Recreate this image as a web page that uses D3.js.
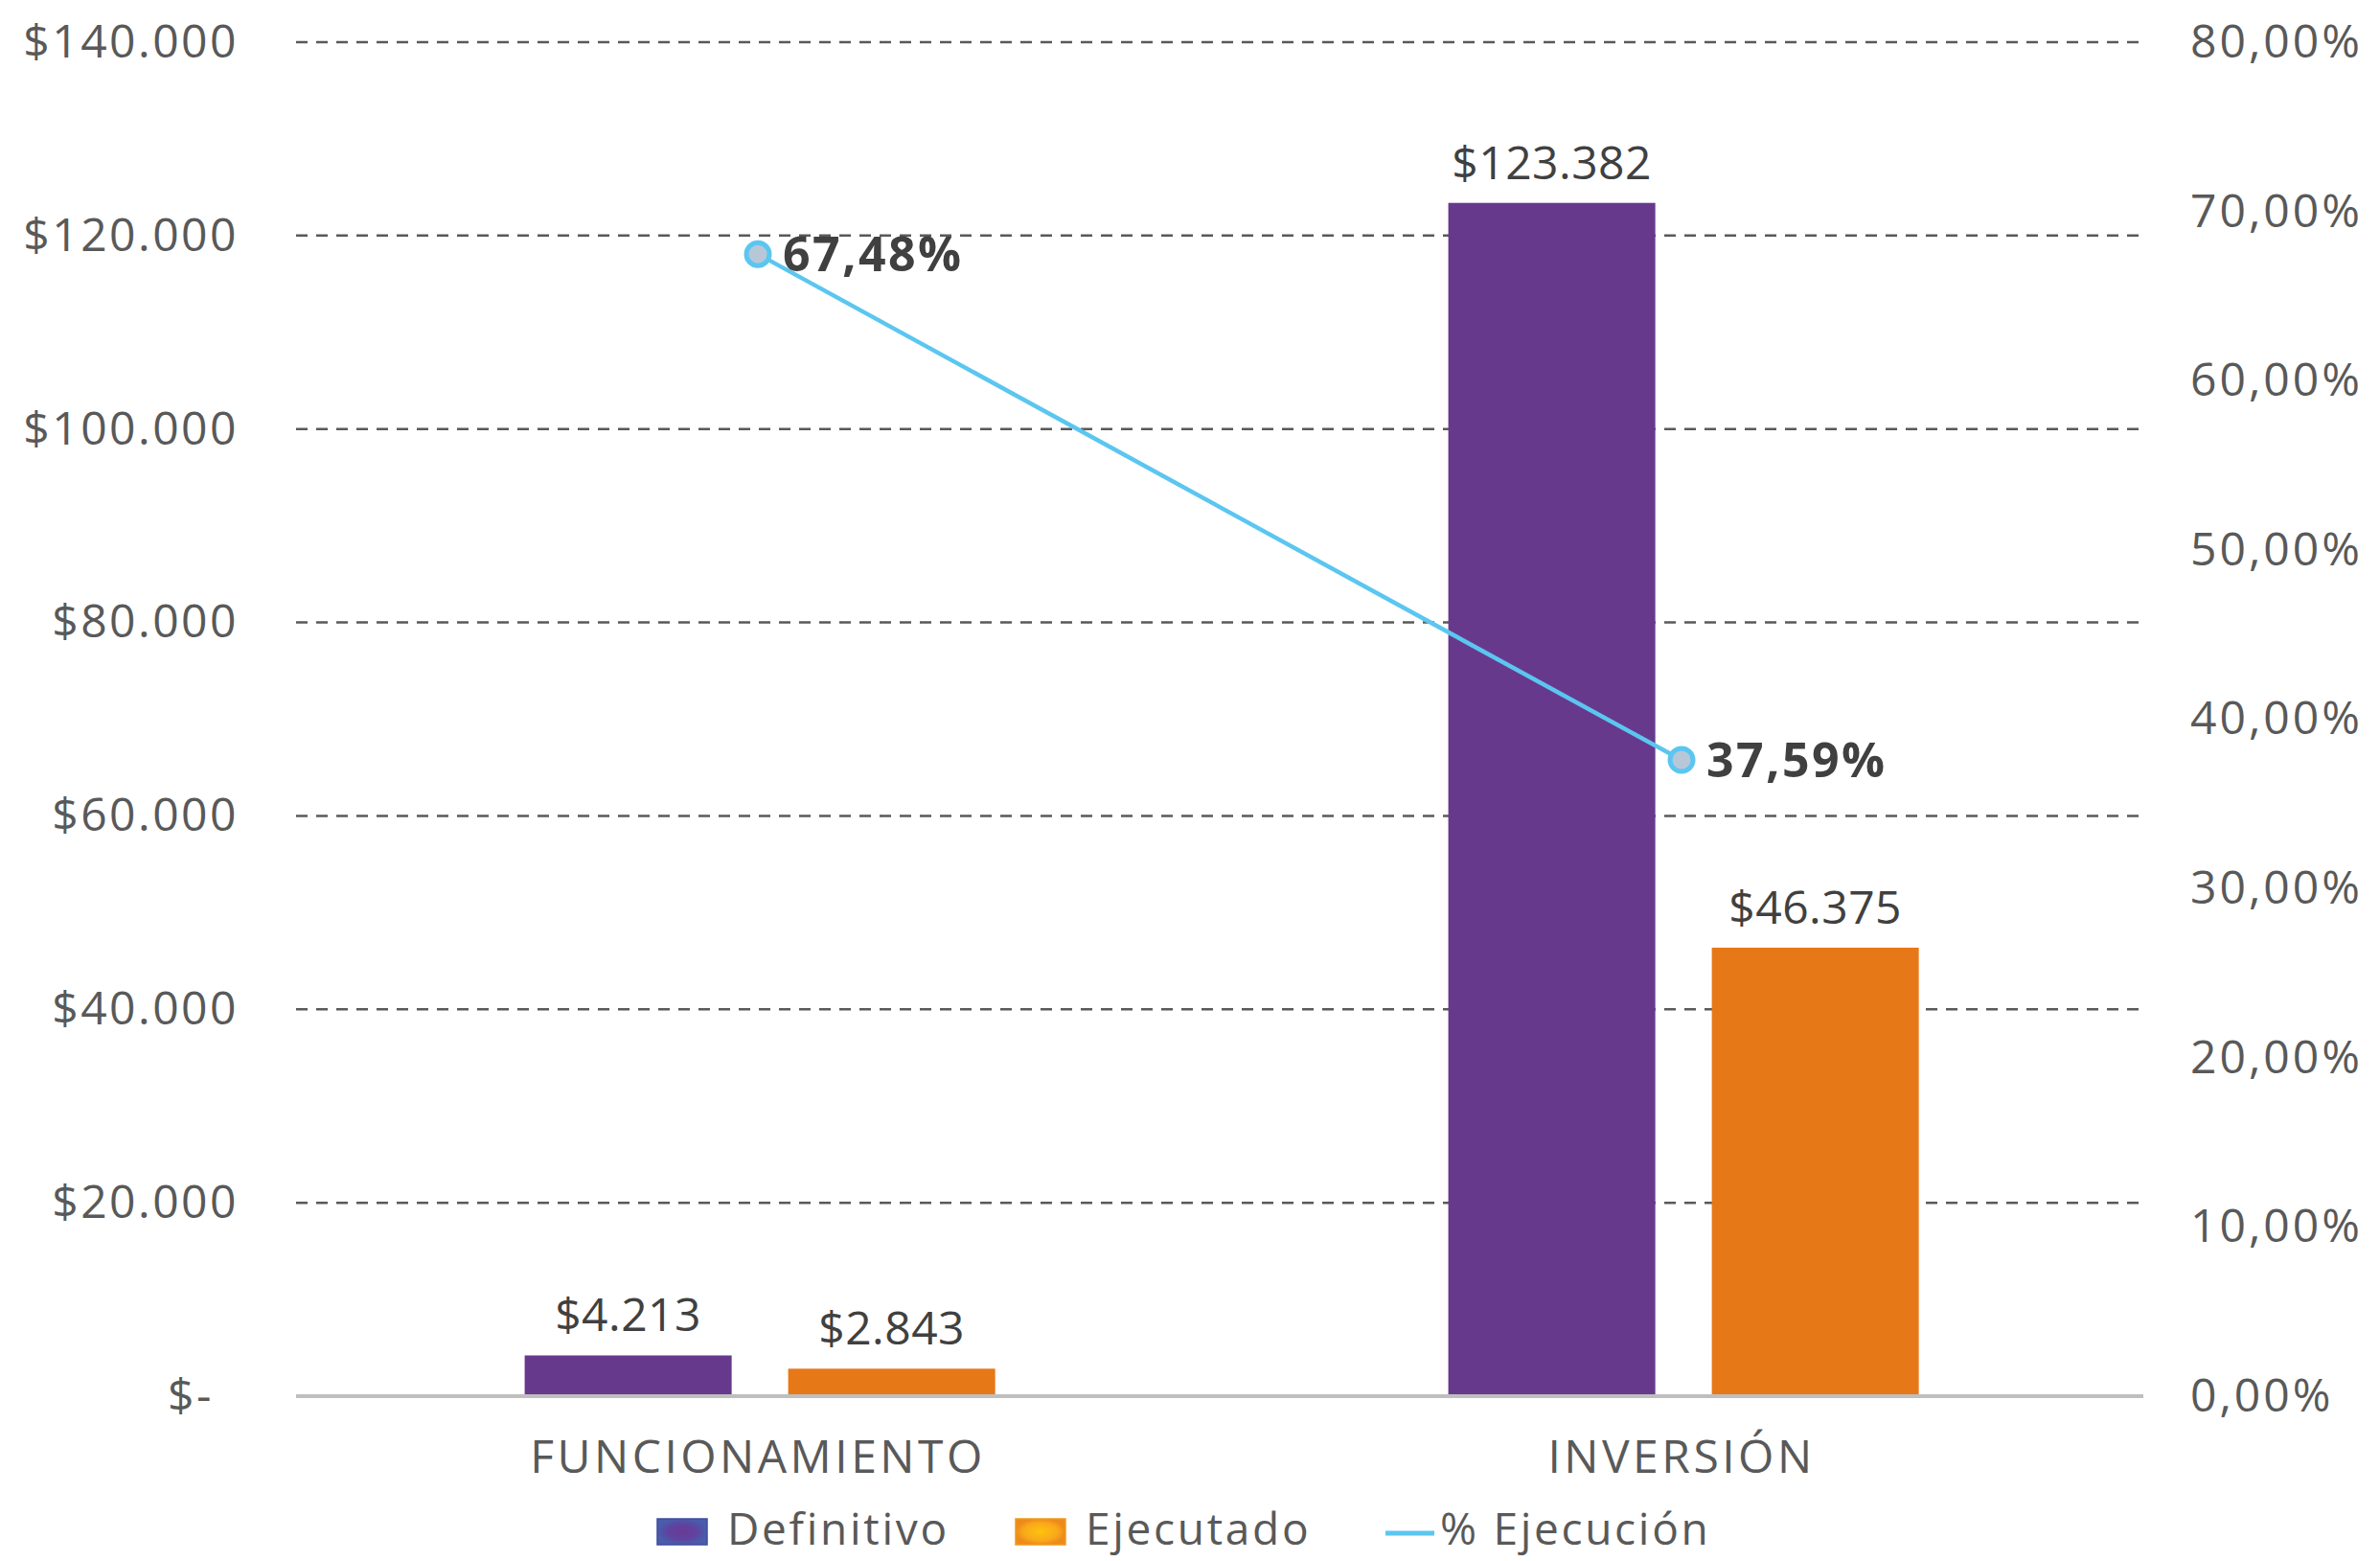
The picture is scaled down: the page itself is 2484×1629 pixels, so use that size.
<!DOCTYPE html>
<html>
<head>
<meta charset="utf-8">
<script src="https://cdn.jsdelivr.net/npm/d3@7"></script>
<style>
  body { margin: 0; background: #fff; }
  text { font-family: "Open Sans", sans-serif; }
</style>
</head>
<body>
<svg id="chart"></svg>
<script>
// data (millions of pesos)
const categories = ["FUNCIONAMIENTO", "INVERSIÓN"];
const seriesNames = ["Definitivo", "Ejecutado"];
const definitivo = [4213, 123382];
const ejecutado = [2843, 46375];
const pctEjecucion = [0.6748, 0.3759];
const leftTicks = [0, 20000, 40000, 60000, 80000, 100000, 120000, 140000];
const rightTicks = [0, 0.1, 0.2, 0.3, 0.4, 0.5, 0.6, 0.7, 0.8];

const colors = {Definitivo: "#67398C", Ejecutado: "#E77817"};
const lineColor = "#5BC6F0";

const config = {
  width: 2484, height: 1629,
  margin: {top: 44, right: 247, bottom: 172, left: 309}
};

const locale = d3.formatLocale({decimal: ",", thousands: ".", grouping: [3], currency: ["$", ""]});
const fmtMoney = locale.format("$,.0f");
const fmtPct = locale.format(".2%");

const svg = d3.select("#chart")
  .attr("width", config.width)
  .attr("height", config.height);

const defs = svg.append("defs");
const g1 = defs.append("radialGradient").attr("id", "gradDef");
g1.append("stop").attr("offset", "0%").attr("stop-color", "#6A3A95");
g1.append("stop").attr("offset", "60%").attr("stop-color", "#5E44A0");
g1.append("stop").attr("offset", "100%").attr("stop-color", "#4A5CAC");
const g2 = defs.append("radialGradient").attr("id", "gradEje");
g2.append("stop").attr("offset", "0%").attr("stop-color", "#FFC20E");
g2.append("stop").attr("offset", "70%").attr("stop-color", "#F8A81A");
g2.append("stop").attr("offset", "100%").attr("stop-color", "#EE8A1C");

const innerW = config.width - config.margin.left - config.margin.right;
const innerH = config.height - config.margin.top - config.margin.bottom;

const chart = svg.append("g")
  .attr("transform", `translate(${config.margin.left},${config.margin.top})`);

// scales
const x0 = d3.scaleBand().domain(categories).range([0, innerW]).padding(0);
const bw = x0.bandwidth();
const x1 = d3.scaleBand().domain(seriesNames)
  .range([bw * 0.2475, bw * 0.7569])
  .paddingInner(0.2145).paddingOuter(0);
const yL = d3.scaleLinear().domain([0, 140000]).range([innerH, 0]);
const yR = d3.scaleLinear().domain([0, 0.8]).range([innerH, 0]);

// gridlines
chart.append("g")
  .selectAll("line")
  .data(leftTicks.filter(d => d > 0))
  .join("line")
  .attr("x1", 0).attr("x2", innerW)
  .attr("y1", d => yL(d)).attr("y2", d => yL(d))
  .attr("stroke", "#595959")
  .attr("stroke-width", 2.5)
  .attr("stroke-dasharray", "12 9");

// left axis
const axL = chart.append("g")
  .attr("transform", "translate(-60,0)")
  .call(d3.axisLeft(yL).tickValues(leftTicks).tickSize(0).tickPadding(0)
    .tickFormat(d => d === 0 ? "$-" : fmtMoney(d)));
axL.select(".domain").remove();
axL.selectAll("text")
  .style("font-size", "48px")
  .style("letter-spacing", "2.5px")
  .attr("fill", "#595959")
  .attr("dx", d => d === 0 ? -26 : 0);

// right axis
const axR = chart.append("g")
  .attr("transform", `translate(${innerW + 49},0)`)
  .call(d3.axisRight(yR).tickValues(rightTicks).tickSize(0).tickPadding(0)
    .tickFormat(d => fmtPct(d)));
axR.select(".domain").remove();
axR.selectAll("text")
  .style("font-size", "48px")
  .style("letter-spacing", "3px")
  .attr("fill", "#595959");

// bars
const rows = categories.map((c, i) => ({
  cat: c,
  vals: [{key: "Definitivo", v: definitivo[i]}, {key: "Ejecutado", v: ejecutado[i]}]
}));

const groups = chart.selectAll(".grp")
  .data(rows)
  .join("g")
  .attr("class", "grp")
  .attr("transform", d => `translate(${x0(d.cat)},0)`);

groups.selectAll("rect")
  .data(d => d.vals)
  .join("rect")
  .attr("x", d => x1(d.key))
  .attr("y", d => yL(d.v))
  .attr("width", x1.bandwidth())
  .attr("height", d => innerH - yL(d.v))
  .attr("fill", d => colors[d.key]);

groups.selectAll(".val")
  .data(d => d.vals)
  .join("text")
  .attr("class", "val")
  .attr("x", d => x1(d.key) + x1.bandwidth() / 2)
  .attr("y", d => yL(d.v) - 25)
  .attr("text-anchor", "middle")
  .style("font-size", "48px")
  .style("letter-spacing", "0.5px")
  .attr("fill", "#404040")
  .text(d => fmtMoney(d.v));

// baseline
chart.append("line")
  .attr("x1", 0).attr("x2", innerW)
  .attr("y1", innerH).attr("y2", innerH)
  .attr("stroke", "#BFBFBF")
  .attr("stroke-width", 4);

// category labels
const axB = chart.append("g")
  .attr("transform", `translate(0,${innerH})`)
  .call(d3.axisBottom(x0).tickSize(0).tickPadding(46));
axB.select(".domain").remove();
axB.selectAll("text")
  .style("font-size", "48px")
  .style("letter-spacing", "3.5px")
  .attr("fill", "#595959");

// % line
const pts = categories.map((c, i) => ({cat: c, p: pctEjecucion[i]}));
const line = d3.line()
  .x(d => x0(d.cat) + bw / 2)
  .y(d => yR(d.p));

chart.append("path")
  .datum(pts)
  .attr("d", line)
  .attr("fill", "none")
  .attr("stroke", lineColor)
  .attr("stroke-width", 4.5);

chart.selectAll(".dot")
  .data(pts)
  .join("circle")
  .attr("class", "dot")
  .attr("cx", d => x0(d.cat) + bw / 2)
  .attr("cy", d => yR(d.p))
  .attr("r", 12)
  .attr("fill", "#B8C7D8")
  .attr("stroke", lineColor)
  .attr("stroke-width", 5);

chart.selectAll(".pct")
  .data(pts)
  .join("text")
  .attr("class", "pct")
  .attr("x", d => x0(d.cat) + bw / 2 + 26)
  .attr("y", d => yR(d.p))
  .attr("dy", "0.35em")
  .style("font-size", "50px")
  .style("font-weight", "bold")
  .style("letter-spacing", "2.5px")
  .attr("fill", "#404040")
  .text(d => fmtPct(d.p));

// legend
const legY = 1596;
const legend = svg.append("g");
const legItems = [
  {name: "Definitivo", type: "rect", fill: "url(#gradDef)", stroke: "#3F4C9A", x: 686},
  {name: "Ejecutado", type: "rect", fill: "url(#gradEje)", stroke: "#F09A1A", x: 1060},
  {name: "% Ejecución", type: "line", x: 1446}
];
legItems.forEach(it => {
  if (it.type === "rect") {
    legend.append("rect")
      .attr("x", it.x).attr("y", legY - 11)
      .attr("width", 52).attr("height", 27)
      .attr("fill", it.fill)
      .attr("stroke", it.stroke).attr("stroke-width", 1.5);
  } else {
    legend.append("line")
      .attr("x1", it.x).attr("x2", it.x + 51)
      .attr("y1", legY + 4).attr("y2", legY + 4)
      .attr("stroke", lineColor).attr("stroke-width", 5);
  }
  legend.append("text")
    .attr("x", it.type === "rect" ? it.x + 73 : it.x + 57)
    .attr("y", legY)
    .attr("dy", "0.35em")
    .style("font-size", "46px")
    .style("letter-spacing", "2.7px")
    .attr("fill", "#595959")
    .text(it.name);
});
</script>
</body>
</html>
